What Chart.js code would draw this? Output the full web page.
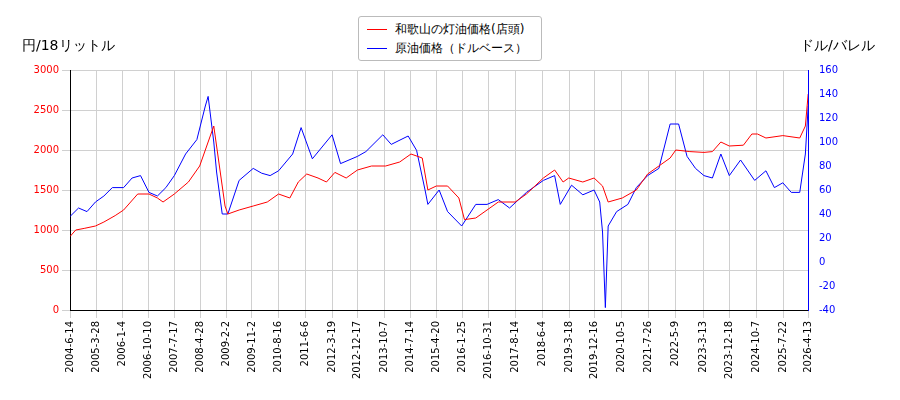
<!DOCTYPE html>
<html><head><meta charset="utf-8">
<script src="https://cdn.jsdelivr.net/npm/chart.js@4"></script>
<style>
body{margin:0;background:#fff;font-family:"DejaVu Sans",sans-serif}
#wrap{position:relative;width:900px;height:400px}
.t{position:absolute;font-size:14px;color:#000}
#leg{position:absolute;left:358px;top:16px;width:182px;height:43px;border:1px solid #bbb;border-radius:3px;background:#fff;font-size:12px;z-index:2}
#leg div{position:absolute;left:8px;white-space:nowrap}
#leg span{display:inline-block;width:20px;height:0;border-top:1.6px solid;vertical-align:middle;margin-right:8px}
</style></head><body>
<div id="wrap">
<canvas id="c" width="900" height="400"></canvas>
<div class="t" style="left:22px;top:37px">円/18リットル</div>
<div class="t" style="left:800px;top:37px">ドル/バレル</div>
<div id="leg"><div style="top:4px"><span style="border-color:red"></span>和歌山の灯油価格(店頭)</div><div style="top:23px"><span style="border-color:blue"></span>原油価格（ドルベース）</div></div>
</div>
<script>
// tick labels along the bottom
const tickDates = ['2004-6-14','2005-3-28','2006-1-4','2006-10-10','2007-7-17','2008-4-28','2009-2-2','2009-11-2','2010-8-16','2011-6-6','2012-3-19','2012-12-17','2013-10-7','2014-7-14','2015-4-20','2016-1-25','2016-10-31','2017-8-14','2018-6-4','2019-3-18','2019-12-16','2020-10-5','2021-7-26','2022-5-9','2023-3-13','2023-12-18','2024-10-7','2025-7-22','2026-4-13'];

// kerosene price (yen / 18L)
const keroDates = ['2004-6','2004-8','2004-11','2005-3','2005-6','2005-10','2006-1','2006-6','2006-10','2007-1','2007-3','2007-7','2007-12','2008-4','2008-7','2008-9','2008-11','2009-1','2009-2','2009-6','2009-11','2010-4','2010-8','2010-12','2011-3','2011-6','2011-10','2012-1','2012-4','2012-8','2012-12','2013-5','2013-10','2014-3','2014-7','2014-11','2015-1','2015-4','2015-8','2015-12','2016-2','2016-6','2016-10','2017-2','2017-8','2017-12','2018-6','2018-10','2019-1','2019-3','2019-8','2019-12','2020-3','2020-5','2020-10','2021-3','2021-7','2021-11','2022-3','2022-5','2022-10','2023-3','2023-6','2023-9','2023-12','2024-5','2024-8','2024-10','2025-1','2025-7','2026-1','2026-3','2026-4'];
const keroValues = [920,1000,1020,1050,1100,1180,1250,1450,1450,1400,1350,1450,1600,1800,2100,2300,1800,1300,1200,1250,1300,1350,1450,1400,1600,1700,1650,1600,1720,1650,1750,1800,1800,1850,1950,1900,1500,1550,1550,1400,1130,1150,1250,1350,1350,1450,1650,1750,1600,1650,1600,1650,1550,1350,1400,1500,1700,1800,1900,2000,1980,1970,1980,2100,2050,2060,2200,2200,2150,2180,2150,2300,2700];

// crude oil price (USD / barrel)
const crudeDates = ['2004-6','2004-9','2004-12','2005-3','2005-6','2005-9','2006-1','2006-4','2006-7','2006-10','2007-1','2007-4','2007-7','2007-11','2008-3','2008-6','2008-7','2008-9','2008-10','2008-12','2009-2','2009-6','2009-11','2010-2','2010-5','2010-8','2011-1','2011-4','2011-8','2012-3','2012-6','2012-12','2013-3','2013-9','2013-12','2014-6','2014-9','2014-12','2015-1','2015-5','2015-8','2016-1','2016-6','2016-10','2017-2','2017-6','2017-12','2018-6','2018-10','2018-12','2019-4','2019-8','2019-12','2020-2','2020-3','2020-4','2020-5','2020-8','2020-12','2021-3','2021-7','2021-11','2022-3','2022-6','2022-9','2022-12','2023-3','2023-6','2023-9','2023-12','2024-4','2024-9','2025-1','2025-4','2025-7','2025-10','2026-1','2026-3','2026-4'];
const crudeValues = [38,45,42,50,55,62,62,70,72,58,55,62,72,90,102,130,138,100,75,40,40,68,78,74,72,76,90,112,86,106,82,88,92,106,98,105,93,60,48,60,42,30,48,48,52,45,58,68,72,48,64,56,60,50,25,-38,30,42,48,62,72,78,115,115,88,78,72,70,90,72,85,68,76,62,66,58,58,90,130];

function toMonth(s){
  const p = s.split('-').map(Number);
  return (p[0]-2004)*12 + (p[1]-6) + ((p[2]||15)-14)/30;
}
const tickPos = tickDates.map(toMonth);
const xy = (d,v) => d.map((s,i)=>({x:toMonth(s),y:v[i]}));
const tickFont = {family:'DejaVu Sans',size:10};

new Chart(document.getElementById('c'), {
  type:'line',
  data:{datasets:[
    {label:'和歌山の灯油価格(店頭)',data:xy(keroDates,keroValues),borderColor:'red',borderWidth:1,pointRadius:0,yAxisID:'y',tension:0},
    {label:'原油価格（ドルベース）',data:xy(crudeDates,crudeValues),borderColor:'blue',borderWidth:1,pointRadius:0,yAxisID:'y2',tension:0}
  ]},
  options:{
    responsive:false,animation:false,
    layout:{padding:{top:70,left:0,right:0,bottom:0}},
    plugins:{legend:{display:false},tooltip:{enabled:false}},
    scales:{
      x:{type:'linear',min:tickPos[0],max:tickPos[tickPos.length-1],
        afterBuildTicks:s=>{s.ticks=tickPos.map(v=>({value:v}));},
        afterFit:s=>{s.height=90;},
        ticks:{autoSkip:false,maxRotation:90,minRotation:90,color:'#000',font:tickFont,
          callback:(v,i)=>tickDates[i]},
        grid:{color:'#d0d0d0'},border:{color:'#000'}},
      y:{position:'left',min:0,max:3000,
        ticks:{stepSize:500,color:'red',font:tickFont,callback:v=>String(v)},
        afterFit:s=>{s.width=70;},
        grid:{color:'#d0d0d0'},border:{color:'#000'}},
      y2:{position:'right',min:-40,max:160,
        ticks:{stepSize:20,color:'blue',font:tickFont,callback:v=>String(v)},
        afterFit:s=>{s.width=92;},
        grid:{display:false},border:{color:'blue'}}
    }
  }
});
</script>
</body></html>
